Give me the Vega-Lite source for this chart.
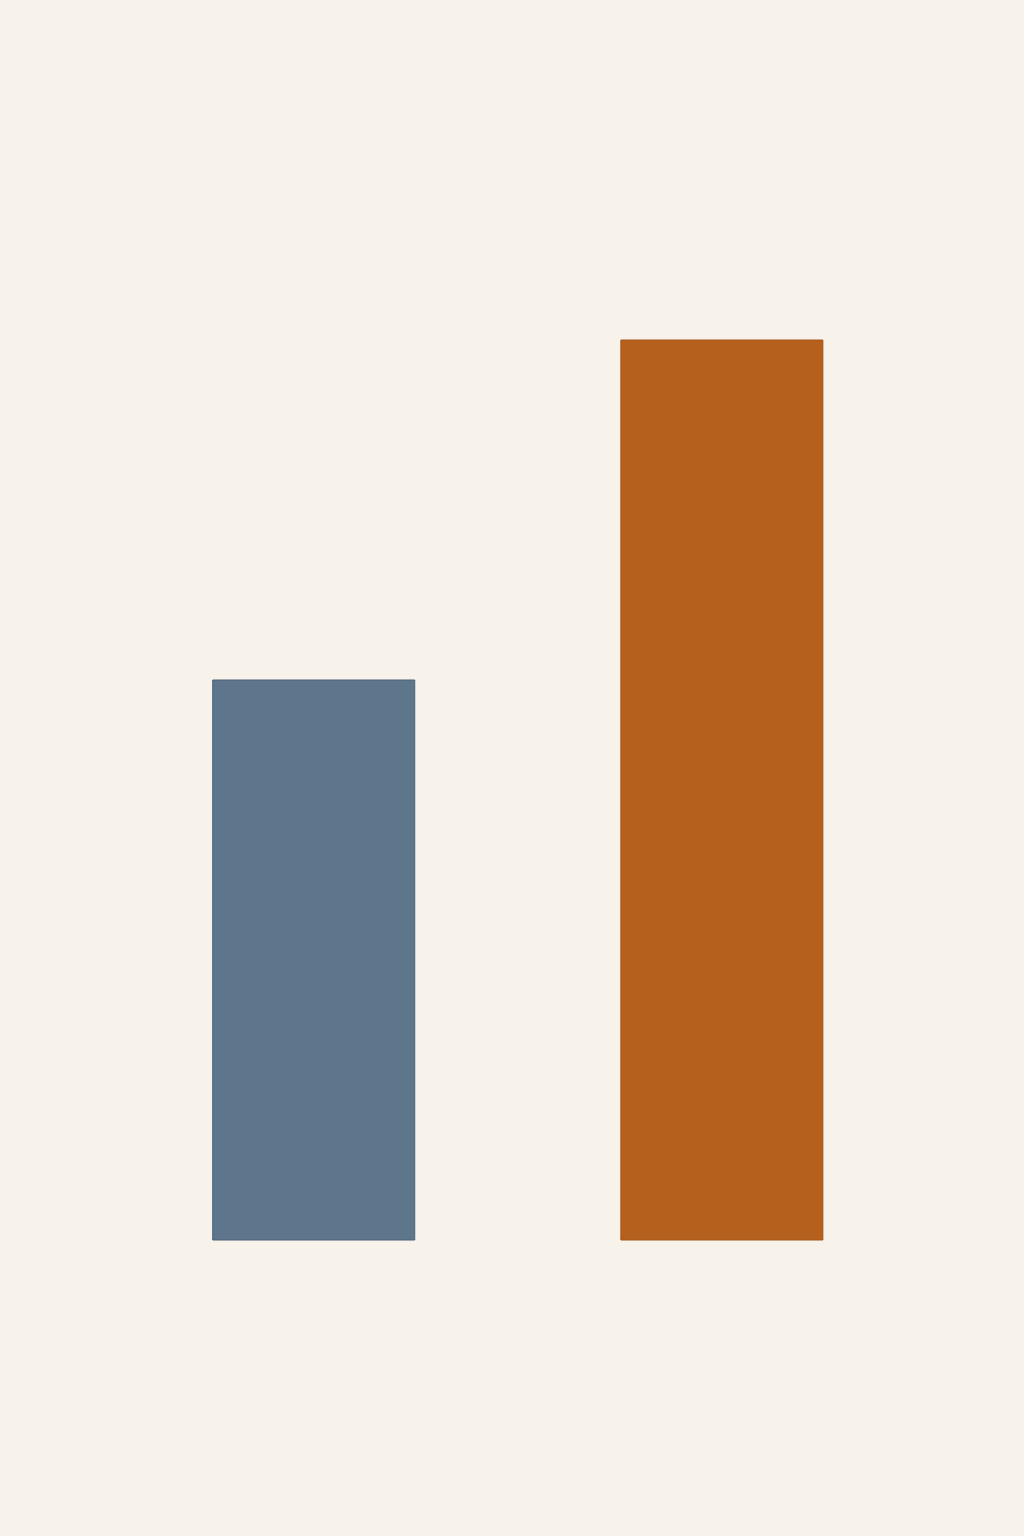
{
  "$schema": "https://vega.github.io/schema/vega-lite/v6.json",
  "autosize": {"type": "fit", "contains": "padding"},
  "width": 1024,
  "height": 1536,
  "padding": 0,
  "background": "#F7F3EA",
  "config": {"view": {"stroke": null}},
  "data": {"values": [
    {"category": "A", "value": 56},
    {"category": "B", "value": 90}
  ]},
  "mark": {"type": "bar", "strokeWidth": 1, "cornerRadius": 0},
  "encoding": {
    "x": {"field": "category", "type": "nominal", "axis": null,
      "scale": {"range": [0, 1024], "paddingInner": 0.505, "paddingOuter": 0.507, "align": 0.514}},
    "y": {"field": "value", "type": "quantitative", "axis": null,
      "scale": {"domain": [0, 124], "range": [1240, 0], "nice": false, "zero": true}},
    "color": {"field": "category", "type": "nominal", "legend": null,
      "scale": {"domain": ["A", "B"], "range": ["#5E768C", "#B5601C"]}},
    "stroke": {"field": "category", "type": "nominal", "legend": null,
      "scale": {"domain": ["A", "B"], "range": ["#4A6178", "#A5561A"]}}
  }
}
